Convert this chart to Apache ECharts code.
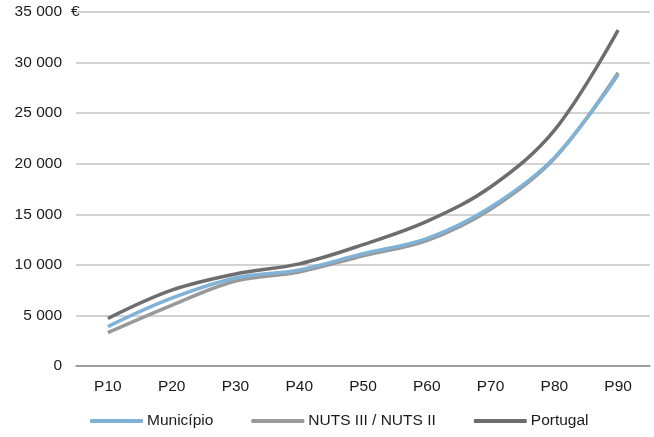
<!DOCTYPE html>
<html><head><meta charset="utf-8">
<script src="https://cdn.jsdelivr.net/npm/echarts@6/dist/echarts.min.js"></script>
<style>html,body{margin:0;padding:0;background:#fff}#c{width:654px;height:437px}</style>
</head><body><div id="c"></div>
<script>
var categories = ['P10','P20','P30','P40','P50','P60','P70','P80','P90'];
var municipio = [3900, 6700, 8700, 9500, 11100, 12600, 15700, 20600, 28800];
var nuts = [3300, 6000, 8400, 9300, 10900, 12400, 15500, 20500, 29000];
var portugal = [4700, 7500, 9100, 10100, 12000, 14300, 17700, 23300, 33200];
var seriesNames = ['Município', 'NUTS III / NUTS II', 'Portugal'];
var yTicks = [0, 5000, 10000, 15000, 20000, 25000, 30000, 35000];

function fmt(v){ return String(v).replace(/\B(?=(\d{3})+(?!\d))/g, ' '); }

var chart = echarts.init(document.getElementById('c'), null, {renderer:'canvas'});
var font = 'Liberation Sans, Arial, sans-serif';
var fs = 15.5;
chart.setOption({
  animation:false,
  textStyle:{fontFamily:font},
  grid:{left:76,right:4,top:12,bottom:71},
  legend:{
    data:seriesNames.map(function(n){return {name:n,icon:'roundRect'};}),
    bottom:3, left:85, itemWidth:53, itemHeight:4, itemGap:38,
    textStyle:{fontFamily:font,fontSize:fs,color:'#1a1a1a',padding:[0,0,0,-1]}
  },
  xAxis:{
    type:'category', data:categories, boundaryGap:true,
    axisLine:{lineStyle:{color:'#8c8c8c',width:1.5}},
    axisTick:{show:false},
    axisLabel:{color:'#1a1a1a',fontSize:fs,margin:13,fontFamily:font}
  },
  yAxis:{
    type:'value', min:yTicks[0], max:yTicks[yTicks.length-1], interval:5000,
    axisLine:{show:false}, axisTick:{show:false},
    splitLine:{lineStyle:{color:'#c4c4c4',width:1.5}},
    axisLabel:{color:'#1a1a1a',fontSize:fs,margin:14,fontFamily:font,formatter:fmt}
  },
  graphic:[{type:'text',left:71,top:4,style:{text:'€',font:fs+'px '+font,fill:'#1a1a1a'}}],
  series:[
    {name:seriesNames[0],type:'line',data:municipio,smooth:0.35,symbol:'none',lineStyle:{color:'#7fb2d6',width:3.5},itemStyle:{color:'#7fb2d6'},z:3},
    {name:seriesNames[1],type:'line',data:nuts,smooth:0.35,symbol:'none',lineStyle:{color:'#999999',width:3.5},itemStyle:{color:'#999999'},z:2},
    {name:seriesNames[2],type:'line',data:portugal,smooth:0.35,symbol:'none',lineStyle:{color:'#6d6d6d',width:3.5},itemStyle:{color:'#6d6d6d'},z:4}
  ]
});
</script></body></html>
